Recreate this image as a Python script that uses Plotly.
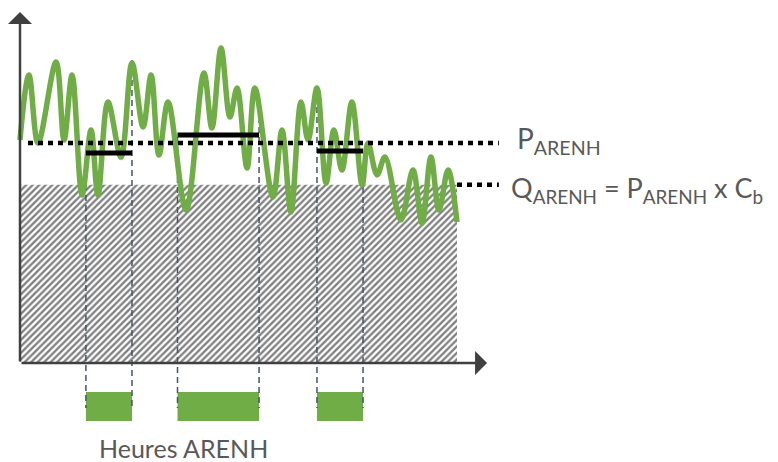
import plotly.graph_objects as go

# ---- data (time in hours, power in relative units; P_ARENH = 100) ----
curve_t = [0.00, 0.49, 0.99, 1.98, 2.42, 2.86, 3.41, 3.90, 4.28, 4.83, 5.55, 6.15,
           6.76, 7.20, 7.63, 8.13, 9.12, 10.10, 10.54, 11.04, 11.53, 11.92, 12.47,
           12.90, 13.89, 14.39, 14.88, 15.43, 15.82, 16.31, 16.81, 17.24, 17.68,
           18.23, 18.79, 19.11, 19.61, 20.04, 20.92, 21.58, 22.08, 22.57, 23.01,
           23.51, 24.00]
curve_p = [101.4, 130.9, 100.0, 136.8, 101.4, 130.9, 76.4, 105.9, 76.4, 118.6, 93.6,
           136.4, 107.3, 130.9, 94.5, 118.6, 69.5, 131.8, 106.8, 143.2, 111.8, 125.0,
           88.6, 125.0, 75.5, 105.9, 68.6, 118.6, 101.4, 125.0, 81.8, 105.9, 87.7,
           118.6, 80.9, 100.0, 85.5, 93.6, 65.0, 87.7, 63.6, 93.6, 69.5, 87.7, 64.1]

P_ARENH = 100.0
C_b = 0.81
Q_ARENH = P_ARENH * C_b

arenh_start = [3.62, 8.65, 16.31]
arenh_end = [6.15, 13.13, 18.84]
arenh_mean = [95.5, 103.6, 96.4]
guide_top_start = [94.5, 102.7, 116.4]
guide_top_end = [137.7, 116.4, 89.1]

label_hours = "Heures ARENH"
label_p = "P<sub>ARENH</sub>"
label_q = "Q<sub>ARENH</sub> = P<sub>ARENH</sub> x C<sub>b</sub>"

GREEN = "#70AD47"
GUIDE = "#44546A"
AXIS = "#404040"
TEXT = "#595959"

fig = go.Figure()

# hatched band 0..Q over the day
fig.add_trace(go.Bar(
    x=[12], y=[Q_ARENH], width=[24], base=0,
    marker=dict(color="white", line=dict(width=0),
                pattern=dict(shape="/", fgcolor="#000000", bgcolor="white",
                             size=4.6, solidity=0.5)),
    hoverinfo="skip", showlegend=False))

# green ARENH hour blocks below axis
fig.add_trace(go.Bar(
    x=[(a + b) / 2 for a, b in zip(arenh_start, arenh_end)],
    width=[b - a for a, b in zip(arenh_start, arenh_end)],
    y=[13.2] * 3, base=-26.4,
    marker=dict(color=GREEN, line=dict(width=0)),
    hoverinfo="skip", showlegend=False))

# vertical dashed guides
gx, gy = [], []
for a, b, ta, tb in zip(arenh_start, arenh_end, guide_top_start, guide_top_end):
    gx += [a, a, None, b, b, None]
    gy += [ta, -20.5, None, tb, -20.5, None]
fig.add_trace(go.Scatter(x=gx, y=gy, mode="lines",
                         line=dict(color=GUIDE, width=1.5, dash="6px,4px"),
                         hoverinfo="skip", showlegend=False))

# consumption curve
fig.add_trace(go.Scatter(x=curve_t, y=curve_p, mode="lines",
                         line=dict(color=GREEN, width=5.5, shape="spline", smoothing=1.0),
                         hoverinfo="skip", showlegend=False))

# dotted P and Q levels
fig.add_trace(go.Scatter(x=[0.44, 26.3], y=[P_ARENH, P_ARENH], mode="lines",
                         line=dict(color="black", width=4.5, dash="5px,5px"),
                         hoverinfo="skip", showlegend=False))
fig.add_trace(go.Scatter(x=[24.0, 26.3], y=[Q_ARENH, Q_ARENH], mode="lines",
                         line=dict(color="black", width=4.5, dash="5px,5px"),
                         hoverinfo="skip", showlegend=False))

# mean levels during ARENH hours
sx, sy = [], []
for a, b, m in zip(arenh_start, arenh_end, arenh_mean):
    sx += [a, b, None]
    sy += [m, m, None]
fig.add_trace(go.Scatter(x=sx, y=sy, mode="lines",
                         line=dict(color="black", width=5),
                         hoverinfo="skip", showlegend=False))

# axes with arrows
fig.add_annotation(x=0, y=159.5, ax=0, ay=0, xref="x", yref="y", axref="x", ayref="y",
                   showarrow=True, arrowhead=1, arrowsize=1.6, arrowwidth=2.5,
                   arrowcolor=AXIS, text="")
fig.add_annotation(x=25.65, y=0, ax=0, ay=0, xref="x", yref="y", axref="x", ayref="y",
                   showarrow=True, arrowhead=1, arrowsize=1.6, arrowwidth=2.5,
                   arrowcolor=AXIS, text="")

FONT = "Lato"
fig.add_annotation(x=27.2, y=101.5, xref="x", yref="y", text=label_p, showarrow=False,
                   xanchor="left", yanchor="middle",
                   font=dict(family=FONT, size=28, color=TEXT))
fig.add_annotation(x=26.85, y=79, xref="x", yref="y", text=label_q, showarrow=False,
                   xanchor="left", yanchor="middle",
                   font=dict(family=FONT, size=27, color=TEXT))
fig.add_annotation(x=9.0, y=-38.5, xref="x", yref="y", text=label_hours, showarrow=False,
                   xanchor="center", yanchor="middle",
                   font=dict(family=FONT, size=25, color=TEXT))

# page body has an 8px margin: figure occupies page px 8..778 / 8..462
fig.update_layout(
    width=770, height=454,
    margin=dict(l=0, r=0, t=0, b=0),
    paper_bgcolor="white", plot_bgcolor="white",
    barmode="overlay",
    xaxis=dict(range=[-0.659, 41.63], visible=False, fixedrange=True),
    yaxis=dict(range=[-45, 161.36], visible=False, fixedrange=True),
    showlegend=False,
)

fig.write_html("out.html")
